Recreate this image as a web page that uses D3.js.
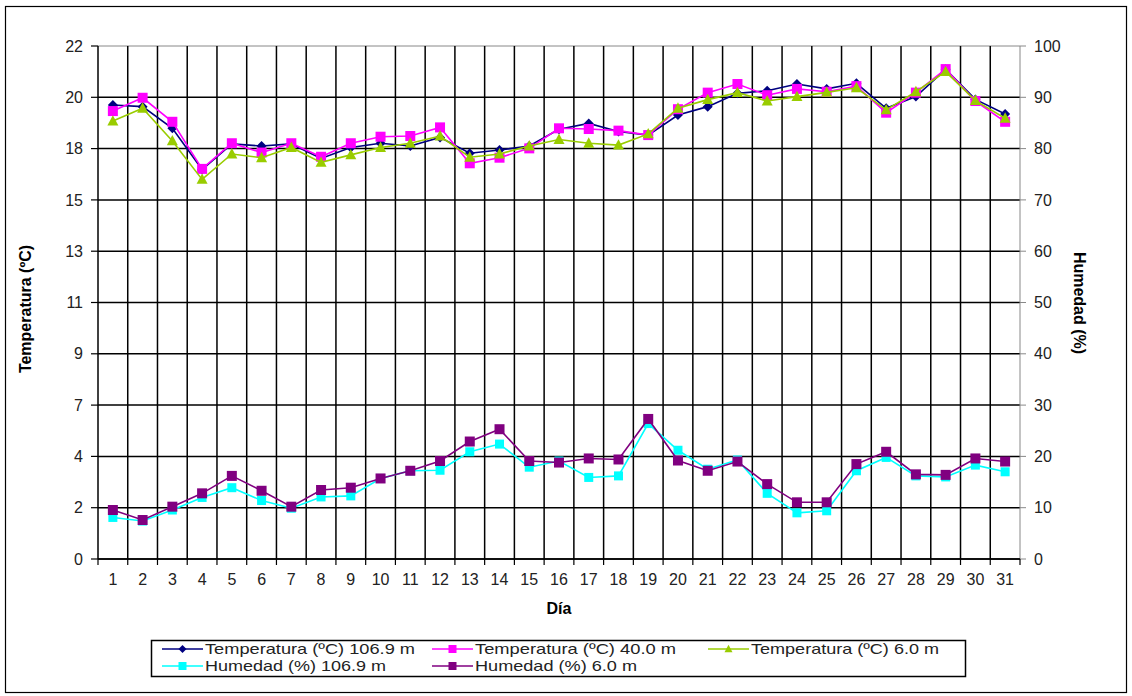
<!DOCTYPE html>
<html><head><meta charset="utf-8">
<script src="https://cdn.jsdelivr.net/npm/d3@7/dist/d3.min.js"></script>
<style>body{margin:0;background:#fff;} text{font-family:"Liberation Sans",Arial,sans-serif;}</style>
</head><body><svg id="c" width="1132" height="696"></svg>
<script>
const days = d3.range(1, 32);
const temp1069 = [19.47,19.40,18.47,16.70,17.80,17.71,17.80,17.18,17.65,17.83,17.71,18.08,17.40,17.54,17.71,18.43,18.68,18.33,18.18,19.04,19.40,19.97,20.08,20.37,20.16,20.40,19.33,19.83,21.00,19.71,19.08];
const temp400  = [19.21,19.78,18.75,16.73,17.83,17.43,17.83,17.25,17.83,18.11,18.14,18.51,16.97,17.21,17.61,18.47,18.44,18.37,18.18,19.29,20.00,20.37,19.89,20.16,20.04,20.28,19.14,20.00,21.01,19.64,18.75];
const temp60   = [18.78,19.33,17.93,16.28,17.37,17.21,17.65,17.01,17.33,17.65,17.83,18.14,17.23,17.37,17.71,17.99,17.83,17.75,18.23,19.33,19.70,20.00,19.64,19.83,20.01,20.21,19.26,20.04,20.90,19.66,18.90];
const hum1069  = [8.1,7.4,9.55,12.0,13.9,11.4,9.9,12.1,12.3,15.7,17.2,17.3,20.9,22.4,17.9,19.1,15.9,16.2,26.4,21.2,17.5,19.3,12.8,9.0,9.4,17.2,19.8,16.2,16.0,18.3,17.0];
const hum60    = [9.55,7.6,10.2,12.8,16.2,13.3,10.2,13.45,13.9,15.7,17.2,19.1,22.9,25.3,19.1,18.8,19.6,19.4,27.3,19.2,17.2,19.0,14.6,11.05,11.05,18.5,20.9,16.5,16.4,19.6,19.0];
const humTicks = d3.range(0, 101, 10);
const tempTickLabels = ["0","2","4","7","9","11","13","15","18","20","22"];
const seriesNames = ["Temperatura (ºC) 106.9 m","Temperatura (ºC) 40.0 m","Temperatura (ºC) 6.0 m","Humedad (%) 106.9 m","Humedad (%) 6.0 m"];

const svg = d3.select("#c");
const L = 98, R = 1020, T = 46, B = 559;
const x = d3.scaleBand().domain(days).range([L, R]);
const yT = d3.scaleLinear().domain([0, 22]).range([B, T]);
const yH = d3.scaleLinear().domain([0, 100]).range([B, T]);

// outer frame
svg.append("rect").attr("x",5.5).attr("y",6.5).attr("width",1121).attr("height",686)
  .attr("fill","none").attr("stroke","#000").attr("stroke-width",1.2);

// horizontal gridlines
svg.append("g").selectAll("line").data(humTicks).join("line")
  .attr("x1",L).attr("x2",R).attr("y1",d=>yH(d)).attr("y2",d=>yH(d))
  .attr("stroke",d=>d===100?"#888":"#000").attr("stroke-width",d=>d===100?1:1.5);
// vertical gridlines at band edges
const edges = days.map(d=>x(d)).slice(1);
svg.append("g").selectAll("line").data(edges).join("line")
  .attr("x1",d=>d).attr("x2",d=>d).attr("y1",T).attr("y2",B)
  .attr("stroke","#000").attr("stroke-width",1.5);

// left axis
svg.append("line").attr("x1",L).attr("x2",L).attr("y1",T).attr("y2",B).attr("stroke","#000").attr("stroke-width",1.5);
const lt = svg.append("g");
humTicks.forEach((h,i)=>{
  const yy = yT(i*2.2);
  lt.append("line").attr("x1",L-7).attr("x2",L).attr("y1",yy).attr("y2",yy).attr("stroke","#000").attr("stroke-width",1.2);
  lt.append("text").attr("x",L-15).attr("y",yy).attr("dy","0.35em").attr("text-anchor","end")
    .attr("font-size",16).attr("fill","#222").text(tempTickLabels[i]);
});
// right axis
svg.append("line").attr("x1",R).attr("x2",R).attr("y1",T).attr("y2",B).attr("stroke","#888").attr("stroke-width",1);
const rt = svg.append("g");
humTicks.forEach(h=>{
  rt.append("line").attr("x1",R).attr("x2",R+6).attr("y1",yH(h)).attr("y2",yH(h)).attr("stroke","#888");
  rt.append("text").attr("x",R+14).attr("y",yH(h)).attr("dy","0.35em").attr("text-anchor","start")
    .attr("font-size",16).attr("fill","#222").text(h);
});
// bottom axis
svg.append("line").attr("x1",L).attr("x2",R).attr("y1",B).attr("y2",B).attr("stroke","#000").attr("stroke-width",1.5);
const bt = svg.append("g");
[L].concat(edges).concat([R]).forEach(e=>{
  bt.append("line").attr("x1",e).attr("x2",e).attr("y1",B).attr("y2",B+6).attr("stroke","#000").attr("stroke-width",1.2);
});
days.forEach(d=>{
  bt.append("text").attr("x",x(d)+x.bandwidth()/2).attr("y",579).attr("dy","0.35em").attr("text-anchor","middle")
    .attr("font-size",16).attr("fill","#222").text(d);
});

// axis titles
svg.append("text").attr("transform","translate(31,309) rotate(-90)").attr("text-anchor","middle")
  .attr("font-size",16).attr("font-weight","bold").text("Temperatura (ºC)");
svg.append("text").attr("transform","translate(1074,303) rotate(90)").attr("text-anchor","middle")
  .attr("font-size",16).attr("font-weight","bold").text("Humedad (%)");
svg.append("text").attr("x",559).attr("y",608).attr("dy","0.35em").attr("text-anchor","middle")
  .attr("font-size",16).attr("font-weight","bold").text("Día");

const cx = d=>x(d)+x.bandwidth()/2;
const series = [
  {vals:temp1069, y:yT, color:"#000080", shape:"diamond", size:5},
  {vals:temp400,  y:yT, color:"#FF00FF", shape:"square", size:10},
  {vals:temp60,   y:yT, color:"#99CC00", shape:"triangle", size:11},
  {vals:hum1069,  y:yH, color:"#00FFFF", shape:"square", size:9},
  {vals:hum60,    y:yH, color:"#800080", shape:"square", size:10},
];
function marker(g, shape, size, color, px, py){
  if(shape==="square"){
    g.append("rect").attr("x",px-size/2).attr("y",py-size/2).attr("width",size).attr("height",size).attr("fill",color);
  } else if(shape==="diamond"){
    g.append("path").attr("d",`M${px},${py-size}L${px+size},${py}L${px},${py+size}L${px-size},${py}Z`).attr("fill",color);
  } else {
    const h=size*0.9;
    g.append("path").attr("d",`M${px},${py-h*0.6}L${px+size/2},${py+h*0.45}L${px-size/2},${py+h*0.45}Z`).attr("fill",color);
  }
}
series.forEach(s=>{
  const line = d3.line().x((v,i)=>cx(days[i])).y(v=>s.y(v));
  svg.append("path").attr("d",line(s.vals)).attr("fill","none").attr("stroke",s.color).attr("stroke-width",1.6);
  const g = svg.append("g");
  s.vals.forEach((v,i)=>marker(g,s.shape,s.size,s.color,cx(days[i]),s.y(v)));
});

// legend
svg.append("rect").attr("x",151.5).attr("y",640.5).attr("width",814).attr("height",36)
  .attr("fill","#fff").attr("stroke","#000").attr("stroke-width",1.5);
const legPos = [[162,649],[432,649],[708,649],[162,666],[432,666]];
const legTextW = [210,201,188,181,162];
series.forEach((s,i)=>{
  const [lx,ly]=legPos[i];
  svg.append("line").attr("x1",lx).attr("x2",lx+41).attr("y1",ly).attr("y2",ly).attr("stroke",s.color).attr("stroke-width",1.6);
  marker(svg,s.shape,s.shape==="diamond"?4:8,s.color,lx+20.5,ly);
  svg.append("text").attr("x",lx+43).attr("y",ly).attr("dy","0.35em").attr("font-size",15).attr("fill","#222")
    .attr("textLength",legTextW[i]).attr("lengthAdjust","spacingAndGlyphs").text(seriesNames[i]);
});
</script></body></html>
